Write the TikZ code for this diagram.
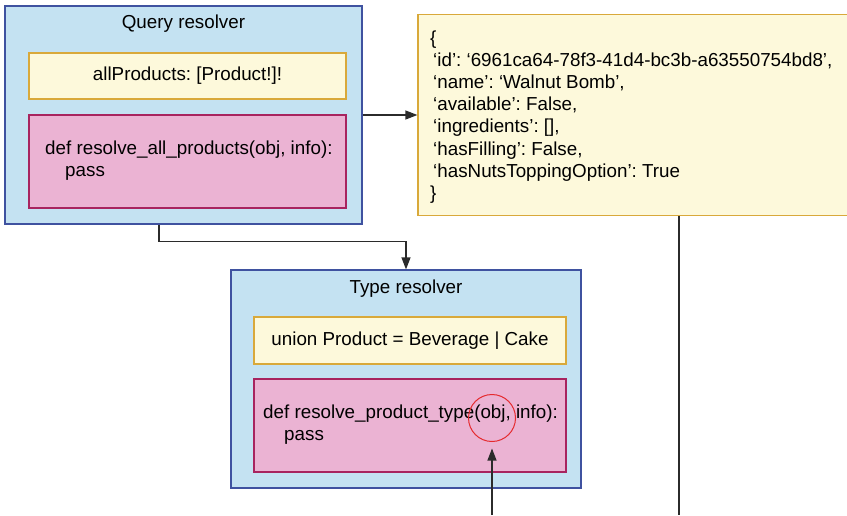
\documentclass[tikz,border=0pt]{standalone}
\usepackage{fontspec}
\setmainfont{Liberation Sans}
\usetikzlibrary{arrows.meta,calc}
\definecolor{bluefill}{HTML}{C4E2F2}
\definecolor{blueline}{HTML}{3F52A0}
\definecolor{yelfill}{HTML}{FDF9DB}
\definecolor{yelline}{HTML}{D9A93A}
\definecolor{pinkfill}{HTML}{EBB3D3}
\definecolor{pinkline}{HTML}{A8245F}
\definecolor{redline}{HTML}{E52A2E}
\definecolor{conn}{HTML}{2B2B2B}
\frenchspacing
\begin{document}
\begin{tikzpicture}[x=1pt,y=-1pt,
  txt/.style={font=\fontsize{18.8}{22.2}\selectfont, text=black, inner sep=0pt},
  outerbox/.style={draw=blueline, fill=bluefill, line width=1.2pt, inner sep=0pt},
  yelbox/.style={draw=yelline, fill=yelfill, line width=1.2pt, inner sep=0pt},
  pinkbox/.style={draw=pinkline, fill=pinkfill, line width=1.2pt, inner sep=0pt},
  conline/.style={draw=conn, line width=1.2pt},
  arr/.style={conline, -{Triangle[length=12pt,width=9pt]}},
  ring/.style={draw=redline, line width=1pt, circle, inner sep=0pt, minimum size=47pt}
]
\useasboundingbox (0,0) rectangle (847,515);
\clip (0,0) rectangle (847,515);

% Query resolver
\node[outerbox, minimum width=357pt, minimum height=218pt] (qr) at (183.5,115) {};
\node[txt] (qrt) at (183.5,24) {Query resolver};
\node[yelbox, minimum width=317pt, minimum height=46pt] (qy) at (187.5,76) {};
\node[txt] (qyt) at (187.5,76) {allProducts: [Product!]!};
\node[pinkbox, minimum width=317pt, minimum height=93pt] (qp) at (187.5,161.5) {};
\node[txt, align=left, anchor=west] (qpt) at (45,161) {def resolve\_all\_products(obj, info):\\\hspace*{20pt}pass};

% JSON object
\node[yelbox, minimum width=450pt, minimum height=201pt] (js) at (643,115) {};
\node[txt, align=left, anchor=west] (jst) at (430,117) {\{\\
\hspace*{3pt}‘id’: ‘6961ca64-78f3-41d4-bc3b-a63550754bd8’,\\
\hspace*{3pt}‘name’: ‘Walnut Bomb’,\\
\hspace*{3pt}‘available’: False,\\
\hspace*{3pt}‘ingredients’: [],\\
\hspace*{3pt}‘hasFilling’: False,\\
\hspace*{3pt}‘hasNutsToppingOption’: True\\
\}};

% Type resolver
\node[outerbox, minimum width=350pt, minimum height=218pt] (tr) at (406,379) {};
\node[txt] (trt) at (406,289) {Type resolver};
\node[yelbox, minimum width=312pt, minimum height=47pt] (ty) at (410,340.5) {};
\node[txt] (tyt) at (410,340.5) {union Product = Beverage | Cake};
\node[pinkbox, minimum width=312pt, minimum height=93pt] (tp) at (410,425.5) {};
\node[txt, align=left, anchor=west] (tpt) at (263,424.5) {def resolve\_product\_type(obj, info):\\\hspace*{21pt}pass};
\node[ring] (rc) at (492,418) {};

% connectors
\coordinate (qx) at (159,0);
\coordinate (jx) at (679,0);
\coordinate (jend) at (679,515);
\coordinate (rend) at (492,515);
\draw[arr] (qr.east) -- (qr.east -| js.west);
\draw[arr] (qx |- qr.south) -- ++(0,17) -| (tr.north);
\draw[conline] (jx |- js.south) -- (jend);
\draw[arr, shorten >=6.5pt] (rend) -- (rc.south);
\end{tikzpicture}
\end{document}
